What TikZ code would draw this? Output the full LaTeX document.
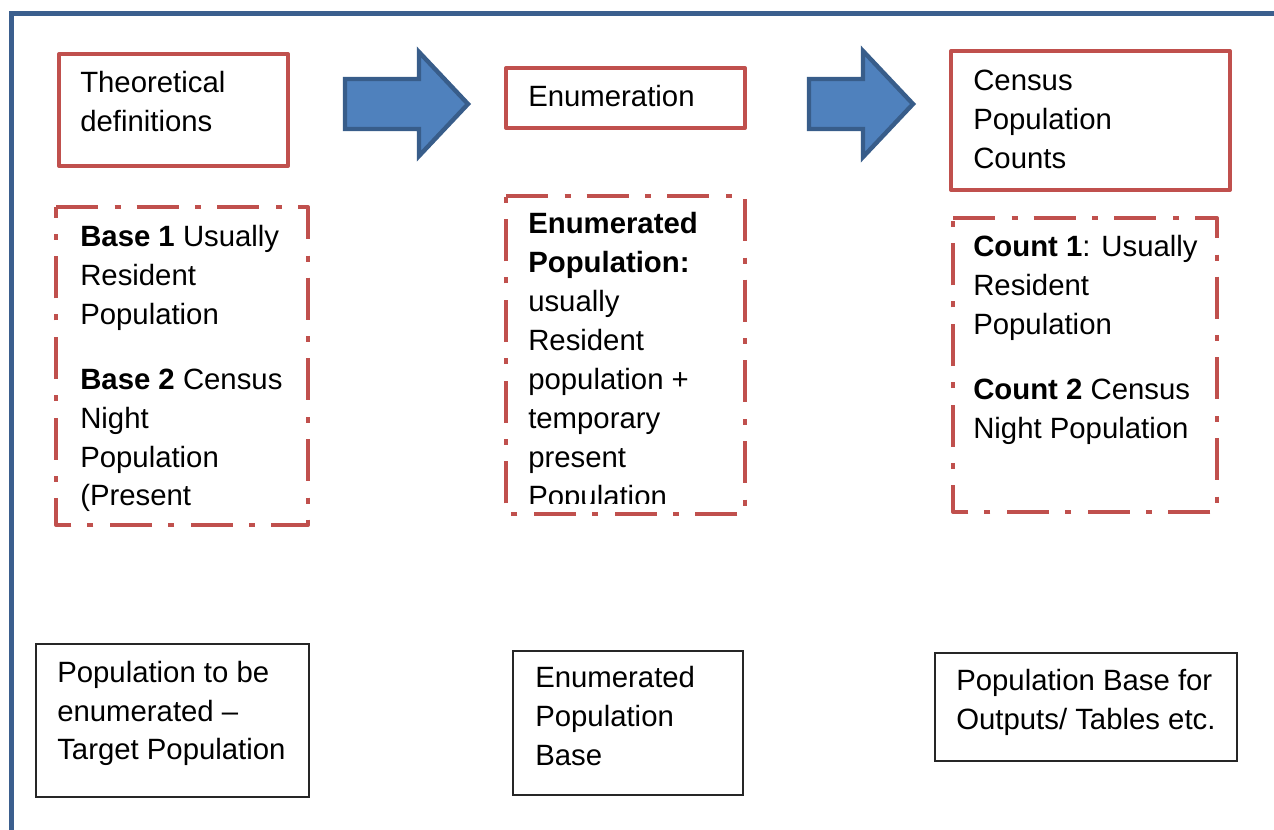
\documentclass[tikz,border=0pt]{standalone}
\usepackage{fontspec}
\setmainfont{Liberation Sans}
\definecolor{framebl}{HTML}{3B5F8E}
\definecolor{boxred}{HTML}{C0504D}
\definecolor{arrfill}{HTML}{4F81BD}
\definecolor{arrline}{HTML}{385D8A}
\tikzset{
  txt/.style={anchor=base west, inner sep=0pt, font=\fontsize{22}{29.25}\selectfont},
  redbox/.style={draw=boxred, line width=3pt, line join=round},
  dashbox/.style={draw=boxred, line width=3pt, line join=round,
    dash pattern=on 31.5pt off 12.5pt on 4.5pt off 12pt},
  blackbox/.style={draw=black!85, line width=1.1pt},
  bigarrow/.style={fill=arrfill, draw=arrline, line width=3.3pt, line join=miter},
  framestyle/.style={draw=framebl, line width=3.6pt}
}
\begin{document}
\begin{tikzpicture}[x=0.75pt, y=-0.75pt]
\useasboundingbox (0,0) rectangle (1274,829);
\clip (0,0) rectangle (1274,829);
% outer frame
\draw[framestyle] (11.5,900) -- (11.5,13.5) -- (1350,13.5);

% top boxes
\draw[redbox] (59,54) rectangle (288,166);
\node[txt] (th1) at (80,92) {Theoretical};
\node[txt] (th2) at (80,131) {definitions};

\draw[redbox] (506,68) rectangle (745,128);
\node[txt] (en1) at (528,106) {Enumeration};

\draw[redbox] (951,51) rectangle (1230,190);
\node[txt] (ce1) at (973,90) {Census};
\node[txt] (ce2) at (973,129) {Population};
\node[txt] (ce3) at (973,168) {Counts};

% arrows
\draw[bigarrow] (345,79) -- (419,79) -- (419,52) -- (468,104) -- (419,156) -- (419,129) -- (345,129) -- cycle;
\draw[bigarrow] (809,79) -- (863,79) -- (863,51) -- (913,104) -- (863,157) -- (863,129) -- (809,129) -- cycle;

% dashed boxes
\draw[dashbox] (56,207) -- (308,207) -- (308,525) -- (56,525) -- cycle;
\begin{scope}
\clip (56,207) rectangle (308,512);
\node[txt] (b1a) at (80,246) {\textbf{Base 1} Usually};
\node[txt] (b1b) at (80,285) {Resident};
\node[txt] (b1c) at (80,324) {Population};
\node[txt] (b1d) at (80,389) {\textbf{Base 2} Census};
\node[txt] (b1e) at (80,428) {Night};
\node[txt] (b1f) at (80,467) {Population};
\node[txt] (b1g) at (80,505) {(Present};
\end{scope}

\draw[dashbox] (506,196) -- (745,196) -- (745,514) -- (506,514) -- cycle;
\begin{scope}
\clip (506,196) rectangle (745,503);
\node[txt] (e1a) at (528,233) {\textbf{Enumerated}};
\node[txt] (e1b) at (528,272) {\textbf{Population:}};
\node[txt] (e1c) at (528,311) {usually};
\node[txt] (e1d) at (528,350) {Resident};
\node[txt] (e1e) at (528,389) {population +};
\node[txt] (e1f) at (528,428) {temporary};
\node[txt] (e1g) at (528,467) {present};
\node[txt] (e1h) at (528,506) {Population};
\end{scope}

\draw[dashbox] (953,218) -- (1217,218) -- (1217,512) -- (953,512) -- cycle;
\node[txt] (c1a) at (973,256) {\textbf{Count 1}: Usually};
\node[txt] (c1b) at (973,295) {Resident};
\node[txt] (c1c) at (973,334) {Population};
\node[txt] (c1d) at (973,399) {\textbf{Count 2} Census};
\node[txt] (c1e) at (973,438) {Night Population};

% bottom boxes
\draw[blackbox] (36,644) rectangle (309,797);
\node[txt] (p1) at (57,682) {Population to be};
\node[txt] (p2) at (57,721) {enumerated –};
\node[txt] (p3) at (57,759) {Target Population};

\draw[blackbox] (513,651) rectangle (743,795);
\node[txt] (q1) at (535,687) {Enumerated};
\node[txt] (q2) at (535,726) {Population};
\node[txt] (q3) at (535,765) {Base};

\draw[blackbox] (935,653) rectangle (1237,761);
\node[txt] (r1) at (956,690) {Population Base for};
\node[txt] (r2) at (956,729) {Outputs/ Tables etc.};
\end{tikzpicture}
\end{document}
